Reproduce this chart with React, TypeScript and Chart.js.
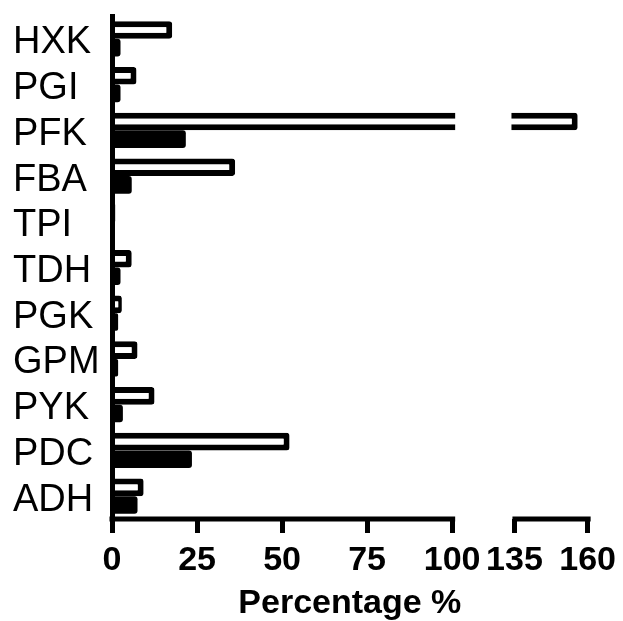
import React, { useEffect, useRef } from 'react';
import { Chart, registerables, LinearScale } from 'chart.js';

Chart.register(...registerables);

// ---- data ----
const categories = ['HXK', 'PGI', 'PFK', 'FBA', 'TPI', 'TDH', 'PGK', 'GPM', 'PYK', 'PDC', 'ADH'];
const openValues = [17.7, 7.2, 156.6, 36.2, 1, 5.8, 2.9, 7.5, 12.5, 52.2, 9.3];
const filledValues = [2.5, 2.5, 21.7, 5.8, 0.6, 2.5, 1.8, 1.8, 3.2, 23.5, 7.5];
const xTickValues = [0, 25, 50, 75, 100, 135, 160];
const xAxisTitle = 'Percentage %';

// axis break settings
const BREAK_FROM = 100;
const BREAK_TO = 135;
const FRAC_FROM = 344 / 481;
const FRAC_TO = 407 / 481;

const FONT = "'Liberation Sans', Arial, Helvetica, sans-serif";

class BrokenLinearScale extends LinearScale {
  static id = 'brokenLinear';
  static defaults = LinearScale.defaults;

  toDecimal(v: number) {
    const min = this.min;
    const max = this.max;
    if (v <= BREAK_FROM) return ((v - min) / (BREAK_FROM - min)) * FRAC_FROM;
    if (v >= BREAK_TO) return FRAC_TO + ((v - BREAK_TO) / (max - BREAK_TO)) * (1 - FRAC_TO);
    return FRAC_FROM + ((v - BREAK_FROM) / (BREAK_TO - BREAK_FROM)) * (FRAC_TO - FRAC_FROM);
  }

  fromDecimal(d: number) {
    const min = this.min;
    const max = this.max;
    if (d <= FRAC_FROM) return min + (d / FRAC_FROM) * (BREAK_FROM - min);
    if (d >= FRAC_TO) return BREAK_TO + ((d - FRAC_TO) / (1 - FRAC_TO)) * (max - BREAK_TO);
    return BREAK_FROM + ((d - FRAC_FROM) / (FRAC_TO - FRAC_FROM)) * (BREAK_TO - BREAK_FROM);
  }

  getPixelForValue(value: any) {
    if (value === null || value === undefined || isNaN(value)) return NaN;
    return this.getPixelForDecimal(this.toDecimal(+value));
  }

  getValueForPixel(pixel: number) {
    return this.fromDecimal(this.getDecimalForPixel(pixel));
  }

  buildTicks() {
    return xTickValues.map((value) => ({ value }));
  }
}

Chart.register(BrokenLinearScale);

const LINE_W = 5;

const breakPlugin = {
  id: 'axisBreak',
  afterDatasetsDraw(chart: any) {
    const { ctx, chartArea } = chart;
    const xs = chart.scales.x;
    const a = xs.getPixelForValue(BREAK_FROM);
    const b = xs.getPixelForValue(BREAK_TO);
    ctx.save();
    ctx.fillStyle = '#ffffff';
    ctx.fillRect(a + LINE_W / 2 + 0.5, chartArea.top - 3, b - a - LINE_W - 1, chartArea.bottom - chartArea.top + 3);
    ctx.strokeStyle = '#000000';
    ctx.lineWidth = LINE_W;
    ctx.lineCap = 'butt';
    const y = chartArea.bottom;
    ctx.beginPath();
    ctx.moveTo(xs.getPixelForValue(xs.min) - LINE_W / 2, y);
    ctx.lineTo(a + LINE_W / 2 + 0.5, y);
    ctx.moveTo(b - LINE_W / 2 + 0.5, y);
    ctx.lineTo(xs.getPixelForValue(xs.max) + LINE_W / 2 + 0.5, y);
    ctx.stroke();
    ctx.restore();
  },
};

export default function App() {
  const canvasRef = useRef<HTMLCanvasElement | null>(null);

  useEffect(() => {
    const canvas = canvasRef.current;
    if (!canvas) return;
    const chart = new Chart(canvas, {
      type: 'bar',
      data: {
        labels: categories,
        datasets: [
          {
            label: 'open',
            data: openValues,
            backgroundColor: '#ffffff',
            borderColor: '#000000',
            borderWidth: 6,
            borderRadius: 3,
            borderSkipped: 'start',
            categoryPercentage: 0.77,
            barPercentage: 1,
            clip: 0,
          },
          {
            label: 'filled',
            data: filledValues,
            backgroundColor: '#000000',
            borderColor: '#000000',
            borderWidth: 0,
            borderRadius: 3,
            borderSkipped: 'start',
            categoryPercentage: 0.77,
            barPercentage: 1,
            clip: 0,
          },
        ],
      },
      options: {
        indexAxis: 'y',
        responsive: false,
        animation: false,
        devicePixelRatio: 1,
        layout: { padding: { left: 13, top: 16, right: 30, bottom: 0 } },
        plugins: {
          legend: { display: false },
          tooltip: { enabled: false },
          title: { display: false },
        },
        scales: {
          x: {
            type: 'brokenLinear' as any,
            position: 'bottom',
            min: 0,
            max: 160,
            afterFit: (scale: any) => {
              scale.height = 102;
            },
            grid: {
              display: true,
              drawOnChartArea: false,
              drawTicks: true,
              tickLength: 14,
              lineWidth: LINE_W,
              color: '#000000',
            },
            border: { display: false },
            ticks: {
              autoSkip: false,
              maxRotation: 0,
              minRotation: 0,
              padding: 7,
              color: '#000000',
              font: { family: FONT, size: 34, weight: 'bold' },
              callback: (v: any) => String(v),
            },
            title: {
              display: true,
              text: xAxisTitle,
              color: '#000000',
              font: { family: FONT, size: 34, weight: 'bold', lineHeight: 1 },
              padding: { top: 0, bottom: 0 },
            },
          },
          y: {
            type: 'category',
            position: 'left',
            afterFit: (scale: any) => {
              scale.width = 99;
            },
            grid: { display: false, drawTicks: false },
            border: { display: true, width: LINE_W, color: '#000000', z: 1 },
            ticks: {
              autoSkip: false,
              crossAlign: 'far',
              labelOffset: 4,
              padding: 0,
              color: '#000000',
              font: { family: FONT, size: 38, weight: 'normal', lineHeight: 0.8 },
            },
          },
        },
      },
      plugins: [breakPlugin],
    } as any);
    return () => chart.destroy();
  }, []);

  return (
    <div style={{ position: 'absolute', left: 0, top: 0, width: 623, height: 621, background: '#ffffff' }}>
      <canvas ref={canvasRef} width={623} height={621} style={{ display: 'block' }} />
    </div>
  );
}
